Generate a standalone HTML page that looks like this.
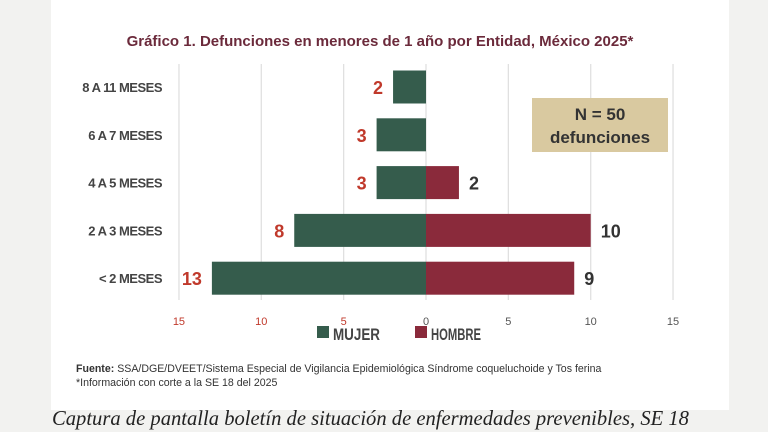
<!DOCTYPE html>
<html><head><meta charset="utf-8"><style>
body{margin:0;width:768px;height:432px;background:#f2f2f0;overflow:hidden;font-family:"Liberation Sans",sans-serif}
#panel{position:absolute;left:51px;top:0;width:678px;height:410px;background:#fff}
#cap{position:absolute;left:52px;top:408px;font-family:"Liberation Serif",serif;font-style:italic;font-size:20.6px;color:#222;white-space:nowrap}
</style></head><body>
<div id="panel"></div>
<svg width="768" height="432" style="position:absolute;left:0;top:0" id="chart">
<text x="380" y="46" text-anchor="middle" font-size="15" font-weight="bold" fill="#6b2a3b">Gráfico 1. Defunciones en menores de 1 año por Entidad, México 2025*</text>
<g id="grid"></g><g id="bars"></g>
<rect x="532" y="98" width="136" height="54" fill="#d9c9a0"/>
<text x="600" y="120" text-anchor="middle" font-size="17" font-weight="bold" fill="#333">N = 50</text>
<text x="600" y="143" text-anchor="middle" font-size="17" font-weight="bold" fill="#333">defunciones</text>
<rect x="317" y="326" width="12" height="12" fill="#355c4c"/>
<text x="333" y="340" font-size="17" font-weight="bold" fill="#444" textLength="47" lengthAdjust="spacingAndGlyphs">MUJER</text>
<rect x="415" y="326" width="12" height="12" fill="#8a2a3b"/>
<text x="431" y="340" font-size="17" font-weight="bold" fill="#444" textLength="50" lengthAdjust="spacingAndGlyphs">HOMBRE</text>
<text x="76" y="372" font-size="10.6" fill="#333"><tspan font-weight="bold">Fuente:</tspan> SSA/DGE/DVEET/Sistema Especial de Vigilancia Epidemiológica Síndrome coqueluchoide y Tos ferina</text>
<text x="76" y="386" font-size="10.6" fill="#333">*Información con corte a la SE 18 del 2025</text>
</svg>
<div id="cap">Captura de pantalla boletín de situación de enfermedades prevenibles, SE 18</div>
<script>
const categories=["8 A 11 MESES","6 A 7 MESES","4 A 5 MESES","2 A 3 MESES","< 2 MESES"];
const mujer=[2,3,3,8,13];
const hombre=[0,0,2,10,9];
const ticks=[-15,-10,-5,0,5,10,15];
const NS="http://www.w3.org/2000/svg";
const x0=426,k=16.47,rowTop=87,rowStep=47.8,bh=33;
const xs=v=>x0+v*k, ys=i=>rowTop+i*rowStep;
function mk(t,a,p){const e=document.createElementNS(NS,t);for(const n in a)e.setAttribute(n,a[n]);p.appendChild(e);return e;}
const grid=document.getElementById('grid'),bars=document.getElementById('bars');
ticks.forEach(t=>{
 const l=mk('line',{x1:xs(t),x2:xs(t),y1:64,y2:300,stroke:'#e0e0e0','stroke-width':1.3},grid);
 
 
 const tx=mk('text',{x:xs(t),y:325,'text-anchor':'middle','font-size':11,fill:t<0?'#c0392b':'#555'},grid);
 tx.textContent=Math.abs(t);
 
 
});
categories.forEach((c,i)=>{
 const y=ys(i);
 const lb=mk('text',{x:162,y:y+5,'text-anchor':'end','font-size':13,'font-weight':'bold',fill:'#444','letter-spacing':'-0.5'},bars);
 lb.textContent=c;
 
 
 if(mujer[i]>0){
  const r=mk('rect',{x:xs(-mujer[i]),y:y-bh/2,width:mujer[i]*k,height:bh,fill:'#355c4c'},bars);
  
  
  const v=mk('text',{x:xs(-mujer[i])-10,y:y+7,'text-anchor':'end','font-size':18,'font-weight':'bold',fill:'#c0392b'},bars);
  v.textContent=mujer[i];
  
  
 }
 if(hombre[i]>0){
  const r=mk('rect',{x:xs(0),y:y-bh/2,width:hombre[i]*k,height:bh,fill:'#8a2a3b'},bars);
  
  
  const v=mk('text',{x:xs(hombre[i])+10,y:y+7,'font-size':18,'font-weight':'bold',fill:'#333'},bars);
  v.textContent=hombre[i];
  
  
 }
});
</script>
</body></html>
